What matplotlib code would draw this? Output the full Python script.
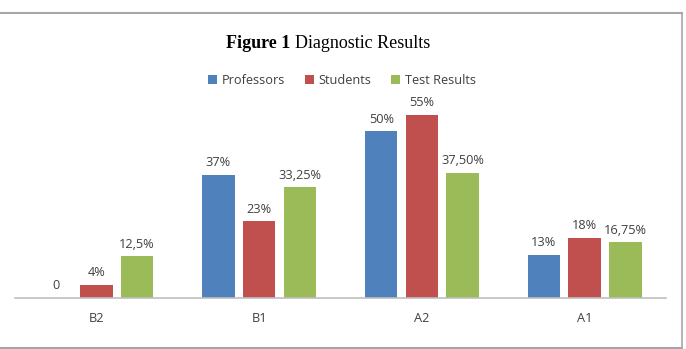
import numpy as np
import matplotlib.pyplot as plt
from matplotlib.lines import Line2D

categories = ['B2', 'B1', 'A2', 'A1']
professors = [0, 37, 50, 13]
students = [4, 23, 55, 18]
test_results = [12.5, 33.25, 37.5, 16.75]
prof_labels = ['0', '37%', '50%', '13%']
stud_labels = ['4%', '23%', '55%', '18%']
test_labels = ['12,5%', '33,25%', '37,50%', '16,75%']

colors = ['#4F81BD', '#C0504D', '#9BBB59']
font = 'Open Sans'

fig = plt.figure(figsize=(6.86, 3.49), dpi=100)
ax = fig.add_axes([15 / 686, 1 - 298 / 349, 651 / 686, 200 / 349])

x = np.arange(len(categories))
w = 0.2
step = 0.25
series = [(professors, prof_labels, 'Professors'),
          (students, stud_labels, 'Students'),
          (test_results, test_labels, 'Test Results')]
for i, (vals, labs, name) in enumerate(series):
    pos = x + (i - 1) * step
    ax.bar(pos, vals, width=w, color=colors[i], label=name)
    for p, v, t in zip(pos, vals, labs):
        ax.annotate(t, (p, v), xytext=(0, 4), textcoords='offset points',
                    ha='center', va='bottom', fontsize=9.2, family=font,
                    color='#404040')

ax.set_xlim(-0.5, 3.5)
ax.set_ylim(0, 60)
ax.set_xticks(x)
ax.set_xticklabels(categories, fontsize=9.2, family=font, color='#404040')
ax.tick_params(axis='x', length=0, pad=10)
ax.set_yticks([])
for s in ['top', 'right', 'left']:
    ax.spines[s].set_visible(False)
ax.spines['bottom'].set_color('#BFBFBF')
ax.spines['bottom'].set_linewidth(1.2)

leg = fig.legend(loc='center', bbox_to_anchor=(342 / 686, 1 - 80 / 349),
                 ncol=3, frameon=False, handlelength=0.7, handleheight=0.7,
                 handletextpad=0.4, columnspacing=1.5,
                 prop={'family': font, 'size': 9.2})
for t in leg.get_texts():
    t.set_color('#404040')

fig.text(290 / 686, 1 - 44 / 349, 'Figure 1', ha='right', va='center',
         family='Liberation Serif', weight='bold', fontsize=13)
fig.text(295 / 686, 1 - 44 / 349, 'Diagnostic Results', ha='left',
         va='center', family='Liberation Serif', fontsize=13)

# outer frame
fc = '#A6A6A6'
fig.add_artist(Line2D([0, 682 / 686], [1 - 12.5 / 349] * 2, color=fc, lw=1.5,
                      transform=fig.transFigure))
fig.add_artist(Line2D([0, 682 / 686], [1 - 348 / 349] * 2, color=fc, lw=1.5,
                      transform=fig.transFigure))
fig.add_artist(Line2D([682 / 686] * 2, [1 - 12.5 / 349, 1 - 348 / 349],
                      color=fc, lw=1.2, transform=fig.transFigure))

fig.savefig('out.png', dpi=100)
